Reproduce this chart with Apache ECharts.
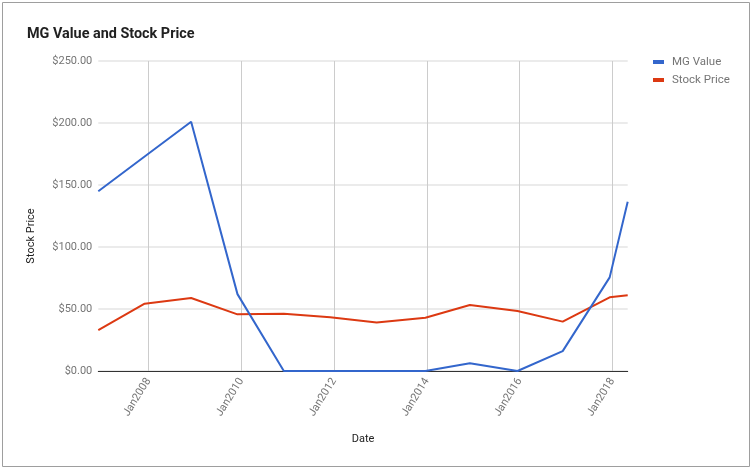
<!DOCTYPE html>
<html>
<head>
<meta charset="utf-8">
<script src="https://cdn.jsdelivr.net/npm/echarts@6/dist/echarts.min.js"></script>
<style>
html,body{margin:0;padding:0;background:#fff;}
#chart{width:752px;height:470px;}
</style>
</head>
<body>
<div id="chart"></div>
<script>
var dates = ['2006-12-01','2007-12-01','2008-12-01','2009-12-01','2010-12-01','2011-12-01','2012-12-01','2013-12-20','2014-12-05','2015-12-15','2016-12-05','2017-12-10','2018-05-01'];
var mgValue = [145, 173, 201, 62, 0, 0, 0, 0, 6.2, 0, 16, 75.5, 136.5];
var stockPrice = [33, 54.3, 58.9, 45.7, 46.2, 43.3, 39.2, 43, 53.2, 48.4, 39.8, 59.4, 61];
var tickYears = [2008, 2010, 2012, 2014, 2016, 2018];
var yTicks = [0, 50, 100, 150, 200, 250];
var seriesNames = ['MG Value', 'Stock Price'];
var titleText = 'MG Value and Stock Price';
var xName = 'Date';
var yName = 'Stock Price';

var ts = dates.map(function(d){ return Date.parse(d); });
var tickTs = tickYears.map(function(y){ return Date.UTC(y, 0, 1); });
function pairs(vals){ return ts.map(function(t, i){ return [t, vals[i]]; }); }

var chart = echarts.init(document.getElementById('chart'), null, {renderer: 'canvas'});
var font = 'Roboto, "Noto Sans", Arial, sans-serif';
chart.setOption({
  animation: false,
  backgroundColor: '#fff',
  textStyle: {fontFamily: font},
  title: {
    text: titleText, left: 27, top: 27, padding: 0,
    textStyle: {fontSize: 14.4, fontWeight: 'bold', color: '#212121', fontFamily: font}
  },
  legend: {
    orient: 'vertical', left: 653, top: 56, padding: 0, itemWidth: 11, itemHeight: 4, itemGap: 6,
    icon: 'rect',
    textStyle: {fontSize: 11.5, color: '#757575', fontFamily: font, padding: [0,0,0,3]},
    data: seriesNames
  },
  grid: {left: 98.3, right: 124.3, top: 61, bottom: 99, containLabel: false},
  xAxis: {
    type: 'value',
    min: ts[0], max: ts[ts.length - 1],
    name: xName, nameLocation: 'middle', nameGap: 63,
    nameTextStyle: {fontSize: 11, color: '#222', fontFamily: font},
    axisLine: {show: true, onZero: true, lineStyle: {color: '#333', width: 1}},
    axisTick: {show: false, customValues: tickTs},
    axisLabel: {
      customValues: tickTs, rotate: 58, margin: 8,
      fontSize: 11, color: '#757575', fontFamily: font,
      formatter: function(v){ return 'Jan' + new Date(v).getUTCFullYear(); }
    },
    splitLine: {show: true, lineStyle: {color: '#cccccc', width: 1}}
  },
  yAxis: {
    type: 'value', min: yTicks[0], max: yTicks[yTicks.length - 1], interval: 50,
    axisLine: {show: false}, axisTick: {show: false},
    axisLabel: {
      margin: 6, fontSize: 11, color: '#757575', fontFamily: font,
      formatter: function(v){ return '$' + v.toFixed(2); }
    },
    splitLine: {show: true, lineStyle: {color: '#e4e4e4', width: 1.5}}
  },
  graphic: [
    {type: 'rect', shape: {x: 2.5, y: 2.5, width: 747, height: 464}, style: {fill: 'none', stroke: '#9e9e9e', lineWidth: 1}, z: 100},
    {type: 'text', x: 31, y: 236, rotation: Math.PI / 2,
     style: {text: yName, font: '11px ' + font, fill: '#222', align: 'center', verticalAlign: 'middle'}}
  ],
  series: [
    {name: seriesNames[0], type: 'line', data: pairs(mgValue), showSymbol: false, symbol: 'none',
     lineStyle: {color: '#3366cc', width: 2}, itemStyle: {color: '#3366cc'}, z: 3},
    {name: seriesNames[1], type: 'line', data: pairs(stockPrice), showSymbol: false, symbol: 'none',
     lineStyle: {color: '#dc3912', width: 2}, itemStyle: {color: '#dc3912'}, z: 2}
  ]
});
</script>
</body>
</html>
